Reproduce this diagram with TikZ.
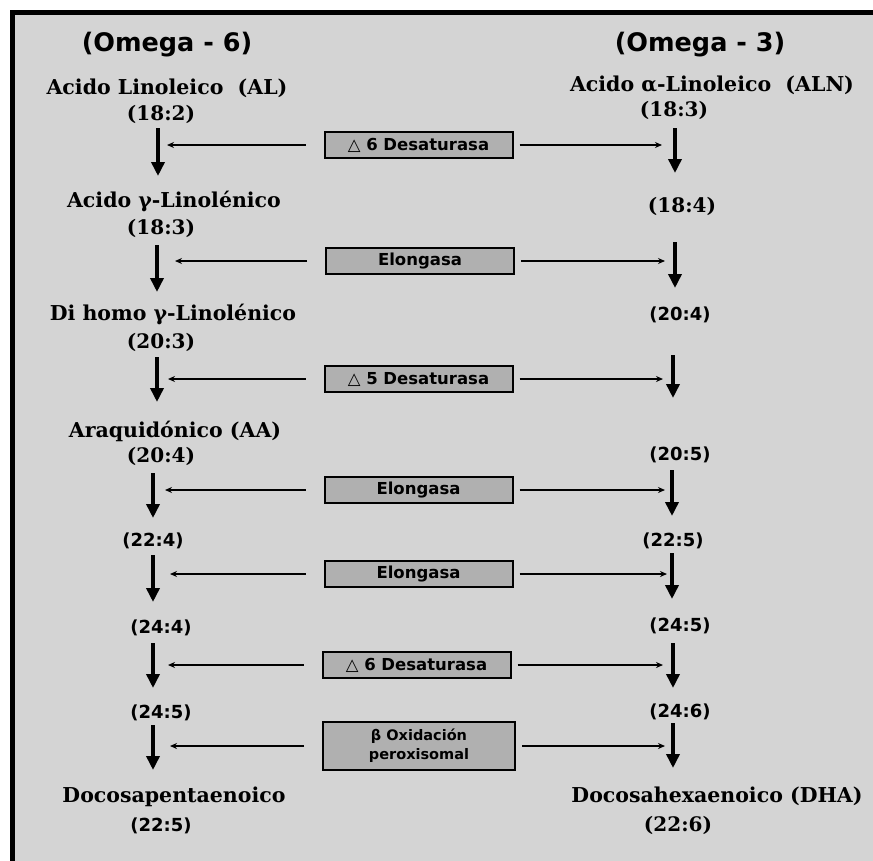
\documentclass[tikz,border=0pt]{standalone}
\usepackage{fontspec}
\usetikzlibrary{arrows.meta}
\newfontfamily\dserif{DejaVu Serif}
\newfontfamily\dsans{DejaVu Sans}
\definecolor{bg}{RGB}{212,212,212}
\definecolor{boxfill}{RGB}{176,176,176}
\begin{document}
\begin{tikzpicture}[x=1pt,y=-1pt,
 lname/.style={font=\dserif\bfseries\fontsize{20.5}{24}\selectfont, inner sep=0pt},
 num/.style={font=\dserif\bfseries\fontsize{20}{24}\selectfont, inner sep=0pt},
 snum/.style={font=\dsans\bfseries\fontsize{18}{22}\selectfont, inner sep=0pt},
 head/.style={font=\dsans\bfseries\fontsize{25.5}{30}\selectfont, inner sep=0pt},
 enz/.style={draw=black, line width=2pt, fill=boxfill, minimum width=188pt, minimum height=26pt, inner sep=0pt, font=\dsans\bfseries\fontsize{16.5}{19}\selectfont, align=center},
 varrow/.style={line width=3.5pt, -{Triangle[width=13pt,length=14pt]}},
 harrow/.style={line width=1.5pt, -{Stealth[length=7pt,width=6pt]}}]
\useasboundingbox (0,0) rectangle (873,860);
\clip (0,0) rectangle (873,860);
\fill[white] (0,0) rectangle (873,860);
\draw[line width=5pt, fill=bg] (12.5,12.5) rectangle (900,900);

% headings
\node[head] (h6) at (167,45) {(Omega - 6)};
\node[head] (h3) at (700,45) {(Omega - 3)};

% left column (omega-6)
\node[lname] (al) at (167,88) {Acido Linoleico\ \ (AL)};
\node[num] (l182) at (161,114) {(18:2)};
\node[lname] (gla) at (174,201) {Acido γ-Linolénico};
\node[num] (l183) at (161,228) {(18:3)};
\node[lname] (dgla) at (173,314) {Di homo γ-Linolénico};
\node[num] (l203) at (161,342) {(20:3)};
\node[lname] (aa) at (175,431) {Araquidónico (AA)};
\node[num] (l204) at (161,456) {(20:4)};
\node[snum] (l224) at (153,541) {(22:4)};
\node[snum] (l244) at (161,628) {(24:4)};
\node[snum] (l245) at (161,713) {(24:5)};
\node[lname] (dpa) at (174,797) {Docosapentaenoico};
\node[snum] (l225) at (161,826) {(22:5)};

% right column (omega-3)
\node[lname] (aln) at (712,85) {Acido α-Linoleico\ \ (ALN)};
\node[num] (r183) at (674,110) {(18:3)};
\node[num] (r184) at (682,206) {(18:4)};
\node[snum] (r204) at (680,315) {(20:4)};
\node[snum] (r205) at (680,455) {(20:5)};
\node[snum] (r225) at (673,541) {(22:5)};
\node[snum] (r245) at (680,626) {(24:5)};
\node[snum] (r246) at (680,712) {(24:6)};
\node[lname] (dha) at (717,796) {Docosahexaenoico (DHA)};
\node[num] (r226) at (678,825) {(22:6)};

% enzyme boxes
\node[enz] (e1) at (418.5,145) {△ 6 Desaturasa};
\node[enz] (e2) at (420,261) {Elongasa};
\node[enz] (e3) at (418.5,379) {△ 5 Desaturasa};
\node[enz] (e4) at (418.5,490) {Elongasa};
\node[enz] (e5) at (418.5,574) {Elongasa};
\node[enz] (e6) at (416.5,665) {△ 6 Desaturasa};
\node[enz, minimum width=192pt, minimum height=48pt, font=\dsans\bfseries\fontsize{14.5}{19}\selectfont] (e7) at (419,746) {β Oxidación\\peroxisomal};

% vertical arrow end points
\coordinate (la1) at (158,128); \coordinate (lb1) at (158,176);
\coordinate (ra1) at (675,128); \coordinate (rb1) at (675,173);
\coordinate (la2) at (157,245); \coordinate (lb2) at (157,292);
\coordinate (ra2) at (675,242); \coordinate (rb2) at (675,288);
\coordinate (la3) at (157,357); \coordinate (lb3) at (157,402);
\coordinate (ra3) at (673,355); \coordinate (rb3) at (673,398);
\coordinate (la4) at (153,473); \coordinate (lb4) at (153,518);
\coordinate (ra4) at (672,470); \coordinate (rb4) at (672,516);
\coordinate (la5) at (153,555); \coordinate (lb5) at (153,602);
\coordinate (ra5) at (672,553); \coordinate (rb5) at (672,599);
\coordinate (la6) at (153,643); \coordinate (lb6) at (153,688);
\coordinate (ra6) at (673,643); \coordinate (rb6) at (673,688);
\coordinate (la7) at (153,725); \coordinate (lb7) at (153,770);
\coordinate (ra7) at (673,723); \coordinate (rb7) at (673,768);

\foreach \i in {1,...,7} {
  \draw[varrow] (la\i) -- (lb\i);
  \draw[varrow] (ra\i) -- (rb\i);
}

% horizontal connector ends
\coordinate (hl1) at (167,145); \coordinate (hr1) at (662,145);
\coordinate (hl2) at (175,261); \coordinate (hr2) at (665,261);
\coordinate (hl3) at (168,379); \coordinate (hr3) at (663,379);
\coordinate (hl4) at (165,490); \coordinate (hr4) at (665,490);
\coordinate (hl5) at (170,574); \coordinate (hr5) at (667,574);
\coordinate (hl6) at (168,665); \coordinate (hr6) at (663,665);
\coordinate (hl7) at (170,746); \coordinate (hr7) at (665,746);

\foreach \i in {1,...,7} {
  \draw[harrow, shorten <=18pt] (e\i.west) -- (hl\i);
  \draw[harrow, shorten <=6pt] (e\i.east) -- (hr\i);
}
\end{tikzpicture}
\end{document}
